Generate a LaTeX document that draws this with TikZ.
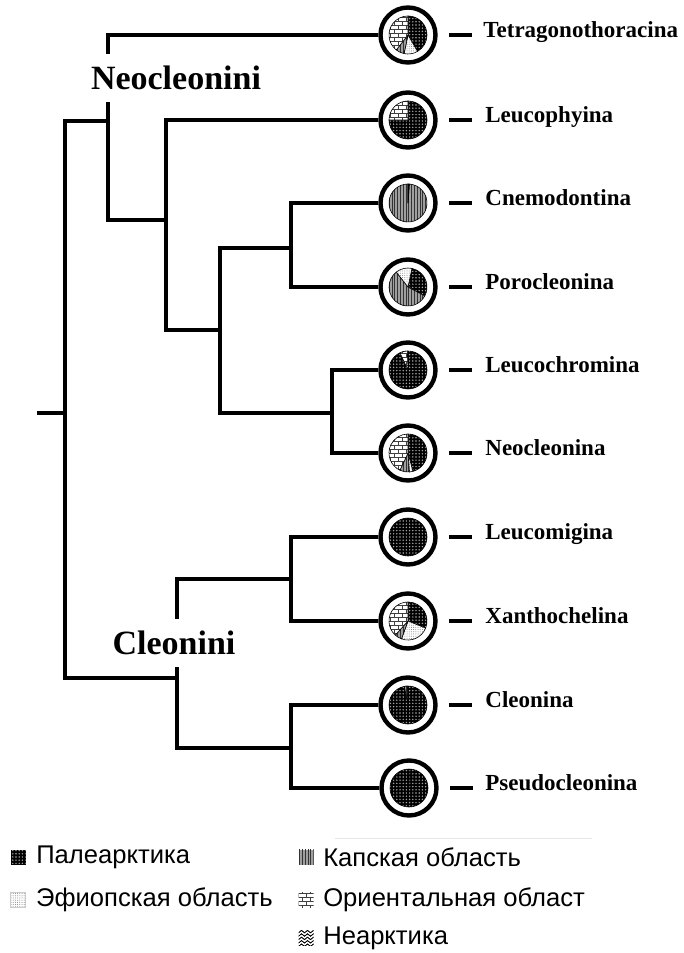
\documentclass[tikz,border=0pt]{standalone}
\usepackage{fontspec}
\setmainfont{Liberation Serif}
\newfontfamily\legendfont{Liberation Sans}
\usetikzlibrary{positioning,calc,patterns,patterns.meta}

% small brick and wave fills for the region slices
\pgfdeclarepatternformonly{tinybricks}{\pgfqpoint{-0.1pt}{-0.1pt}}{\pgfqpoint{4.1pt}{4.1pt}}{\pgfqpoint{4pt}{4pt}}{%
  \pgfsetlinewidth{0.35pt}
  \pgfpathmoveto{\pgfqpoint{0pt}{0pt}}\pgfpathlineto{\pgfqpoint{4pt}{0pt}}
  \pgfpathmoveto{\pgfqpoint{0pt}{2pt}}\pgfpathlineto{\pgfqpoint{4pt}{2pt}}
  \pgfpathmoveto{\pgfqpoint{1pt}{0pt}}\pgfpathlineto{\pgfqpoint{1pt}{2pt}}
  \pgfpathmoveto{\pgfqpoint{3pt}{2pt}}\pgfpathlineto{\pgfqpoint{3pt}{4pt}}
  \pgfusepath{stroke}}
\pgfdeclarepatternformonly{waves}{\pgfqpoint{0pt}{-0.5pt}}{\pgfqpoint{3pt}{2pt}}{\pgfqpoint{3pt}{1.7pt}}{%
  \pgfsetlinewidth{0.45pt}
  \pgfpathmoveto{\pgfqpoint{0pt}{0.5pt}}
  \pgfpathcurveto{\pgfqpoint{0.75pt}{1.3pt}}{\pgfqpoint{0.75pt}{1.3pt}}{\pgfqpoint{1.5pt}{0.5pt}}
  \pgfpathcurveto{\pgfqpoint{2.25pt}{-0.3pt}}{\pgfqpoint{2.25pt}{-0.3pt}}{\pgfqpoint{3pt}{0.5pt}}
  \pgfusepath{stroke}}

% slice of a pie: centre, from, to (degrees clockwise from top), style
\newcommand{\piepart}[4]{%
  \path[#4, draw=black, line width=0.3pt] (#1.center) -- ++({90-(#2)}:19)
    arc[start angle={90-(#2)}, end angle={90-(#3)}, radius=19] -- cycle;}

\begin{document}
\begin{tikzpicture}[x=0.5pt, y=0.5pt,
  branch/.style={line width=2pt, line join=miter},
  ring/.style={circle, draw, line width=2.2pt, minimum size=27.5pt, inner sep=0pt},
  tick/.style={line width=2pt},
  taxon/.style={anchor=base west, inner sep=0pt, font=\fontsize{11.5}{13}\selectfont\bfseries},
  tribe/.style={fill=white, inner xsep=1pt, inner ysep=6pt, font=\fontsize{17}{19}\selectfont\bfseries},
  pal/.style={preaction={fill=black}, pattern={Dots[distance=1.6pt, radius=0.4pt]}, pattern color=gray!70},
  eth/.style={preaction={fill=white}, pattern={Dots[distance=1.1pt, radius=0.25pt]}, pattern color=gray},
  cape/.style={preaction={fill=gray!75}, pattern={Lines[angle=90, distance=1.4pt, line width=0.4pt]}, pattern color=black!80},
  ori/.style={preaction={fill=white}, pattern=tinybricks, pattern color=black!75},
  nea/.style={preaction={fill=white}, pattern=waves, pattern color=black},
  swatch/.style={minimum size=7.5pt, inner sep=0pt},
  entry/.style={anchor=west, inner sep=0pt, font=\legendfont\fontsize{12.8}{14}\selectfont},
]
\useasboundingbox (0,0) rectangle (684,-953);

% leaves
\node[ring] (tetra)    at (408,-35)  {};
\node[ring] (leucoph)  at (408,-120) {};
\node[ring] (cnemo)    at (408,-203) {};
\node[ring] (poro)     at (408,-287) {};
\node[ring] (leucochr) at (408,-370) {};
\node[ring] (neoc)     at (408,-453) {};
\node[ring] (leucom)   at (408,-537) {};
\node[ring] (xantho)   at (408,-621) {};
\node[ring] (cleon)    at (408,-705) {};
\node[ring] (pseudo)   at (409,-788) {};

% inner nodes of the tree
\coordinate (rootstub) at (37,-413);
\coordinate (nR)  at (65,-413);
\coordinate (nN)  at (108,-121);
\coordinate (nA)  at (166,-220);
\coordinate (nB)  at (220,-330);
\coordinate (nC)  at (291,-248);
\coordinate (nD)  at (332,-413);
\coordinate (nCl) at (177,-678);
\coordinate (nE)  at (291,-579);
\coordinate (nF)  at (291,-748);

\draw[branch] (rootstub) -- (nR);
\draw[branch] (nN) -| (nR) |- (nCl);
\draw[branch] (tetra.west) -| (nN) |- (nA);
\draw[branch] (leucoph.west) -| (nA) |- (nB);
\draw[branch] (nC) -| (nB) |- (nD);
\draw[branch] (cnemo.west) -| (nC) |- (poro.west);
\draw[branch] (leucochr.west) -| (nD) |- (neoc.west);
\draw[branch] (nE) -| (nCl) |- (nF);
\draw[branch] (leucom.west) -| (nE) |- (xantho.west);
\draw[branch] (cleon.west) -| (nF) |- (pseudo.west);

\node[tribe] (neocleonini) at (176,-78) {Neocleonini};
\node[tribe] (cleonini) at (174,-643) {Cleonini};

% pies
\piepart{tetra}{0}{150}{pal}
\piepart{tetra}{150}{192}{eth}
\piepart{tetra}{192}{218}{cape}
\piepart{tetra}{218}{360}{ori}
\piepart{leucoph}{0}{270}{pal}
\piepart{leucoph}{270}{360}{ori}
\piepart{cnemo}{4}{360}{cape}
\piepart{cnemo}{0}{4}{pal}
\piepart{poro}{12}{118}{pal}
\piepart{poro}{118}{322}{cape}
\piepart{poro}{322}{372}{eth}
\piepart{leucochr}{0}{360}{pal}
\piepart{leucochr}{335}{358}{ori}
\piepart{neoc}{0}{165}{pal}
\piepart{neoc}{165}{176}{eth}
\piepart{neoc}{176}{205}{cape}
\piepart{neoc}{205}{360}{ori}
\piepart{leucom}{0}{360}{pal}
\piepart{xantho}{0}{112}{pal}
\piepart{xantho}{112}{200}{eth}
\piepart{xantho}{200}{222}{cape}
\piepart{xantho}{222}{360}{ori}
\piepart{cleon}{0}{360}{pal}
\piepart{cleon}{349}{357}{cape}
\piepart{pseudo}{0}{360}{pal}

% names
\foreach \n in {tetra,leucoph,cnemo,poro,leucochr,neoc,leucom,xantho,cleon,pseudo}
  \draw[tick] ($(\n)+(41,0)$) -- ++(23,0);
\node[taxon] (tetra-name)    at ($(tetra)+(75,-2)$)    {Tetragonothoracina};
\node[taxon] (leucoph-name)  at ($(leucoph)+(77,-2)$)  {Leucophyina};
\node[taxon] (cnemo-name)    at ($(cnemo)+(77,-2)$)    {Cnemodontina};
\node[taxon] (poro-name)     at ($(poro)+(77,-2)$)     {Porocleonina};
\node[taxon] (leucochr-name) at ($(leucochr)+(77,-2)$) {Leucochromina};
\node[taxon] (neoc-name)     at ($(neoc)+(77,-2)$)     {Neocleonina};
\node[taxon] (leucom-name)   at ($(leucom)+(77,-2)$)   {Leucomigina};
\node[taxon] (xantho-name)   at ($(xantho)+(77,-2)$)   {Xanthochelina};
\node[taxon] (cleon-name)    at ($(cleon)+(77,-2)$)    {Cleonina};
\node[taxon] (pseudo-name)   at ($(pseudo)+(76,-2)$)   {Pseudocleonina};

% legend
\draw[gray!20, line width=0.5pt] (335,-838) -- (592,-838);
\node[swatch, pal] (k-pal) at (18,-857) {};
\node[entry, right=5pt of k-pal] (e-pal) {Палеарктика};
\node[swatch, eth, draw=gray!40, line width=0.3pt] (k-eth) at (18,-900) {};
\node[entry, right=5pt of k-eth] (e-eth) {Эфиопская область};
\node[swatch, cape] (k-cape) at (306,-857) {};
\node[entry, right=4.5pt of k-cape] (e-cape) {Капская область};
\node[swatch, ori] (k-ori) at (306,-900) {};
\node[entry, right=4.5pt of k-ori] (e-ori) {Ориентальная област};
\node[swatch, nea] (k-nea) at (306,-938) {};
\node[entry, right=4.5pt of k-nea] (e-nea) {Неарктика};
\end{tikzpicture}
\end{document}
